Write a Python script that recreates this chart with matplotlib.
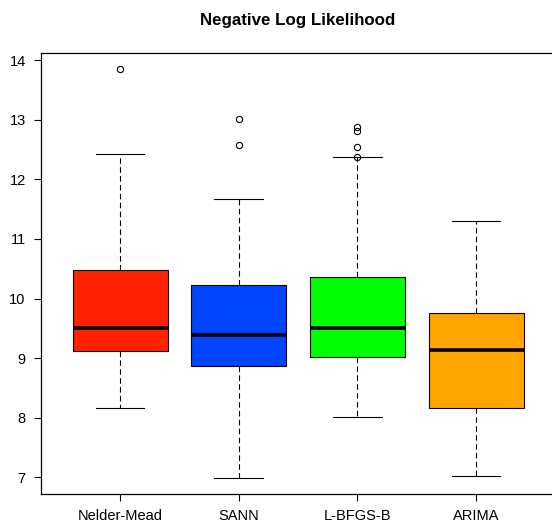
import matplotlib
matplotlib.use("Agg")
import matplotlib.pyplot as plt

plt.rcParams['font.family'] = ['Liberation Sans', 'DejaVu Sans']

methods = ["Nelder-Mead", "SANN", "L-BFGS-B", "ARIMA"]
colors = ["#FF2200", "#0044FF", "#00FF00", "#FFA500"]

medians = [9.50, 9.39, 9.51, 9.13]
q1 = [9.12, 8.87, 9.02, 8.16]
q3 = [10.48, 10.23, 10.36, 9.75]
whislo = [8.16, 6.99, 8.01, 7.02]
whishi = [12.42, 11.67, 12.38, 11.30]
fliers = [[13.85], [13.01, 12.57], [12.88, 12.81, 12.54, 12.37], []]

stats = []
for i in range(len(methods)):
    stats.append({"med": medians[i], "q1": q1[i], "q3": q3[i],
                  "whislo": whislo[i], "whishi": whishi[i],
                  "fliers": fliers[i], "label": methods[i]})

fig = plt.figure(figsize=(5.52, 5.32), dpi=100)
ax = fig.add_axes([41 / 552, 38 / 532, 513.5 / 552, (494 - 53) / 532])

bp = ax.bxp(stats, positions=[1, 2, 3, 4], widths=0.8, patch_artist=True,
            boxprops=dict(edgecolor="black", linewidth=0.8),
            medianprops=dict(color="black", linewidth=2.6, solid_capstyle="butt"),
            whiskerprops=dict(color="black", linewidth=0.8, linestyle=(0, (5, 3))),
            capprops=dict(color="black", linewidth=0.8),
            flierprops=dict(marker="o", markersize=4.5, markerfacecolor="none",
                            markeredgecolor="black", markeredgewidth=0.8),
            capwidths=0.41)
for patch, c in zip(bp["boxes"], colors):
    patch.set_facecolor(c)

ax.set_xlim(0.334, 4.66)
ax.set_ylim(6.72, 14.12)
ax.set_yticks(range(7, 15))
ax.set_xticks([1, 2, 3, 4])
ax.set_xticklabels(methods)
ax.spines["right"].set_visible(False)
for s in ["left", "bottom", "top"]:
    ax.spines[s].set_linewidth(0.9)
ax.tick_params(axis="both", length=5, width=0.8, labelsize=10.5, pad=6)
ax.set_title("Negative Log Likelihood", fontsize=12.2, fontweight="bold", pad=20)

fig.savefig("out.png", dpi=100)
